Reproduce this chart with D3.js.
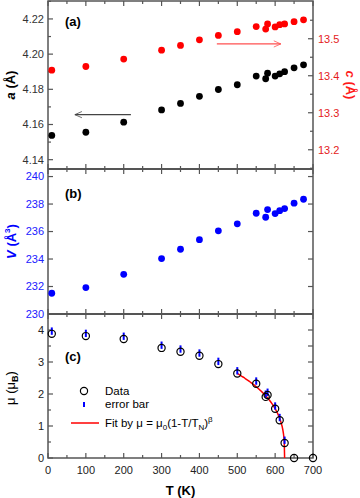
<!DOCTYPE html>
<html lang="en">
<head>
<meta charset="UTF-8">
<title>Lattice and moment vs T</title>
<script src="https://cdn.jsdelivr.net/npm/d3@7"></script>
<style>
  body { margin: 0; background: #fff; }
  text { font-family: "Liberation Sans", Arial, sans-serif; }
</style>
</head>
<body>
<div id="chart"></div>
<script>
// temperatures for the structural data (K)
const tempsLat = [10, 100, 200, 300, 350, 400, 450, 500, 550, 575, 580, 600, 612, 625, 650, 675];
const aVals = [4.1538, 4.1556, 4.1613, 4.1683, 4.172, 4.176, 4.1799, 4.1826, 4.1875, 4.186, 4.1892, 4.1875, 4.1888, 4.190, 4.1922, 4.1939];
const cVals = [13.415, 13.425, 13.445, 13.469, 13.482, 13.497, 13.509, 13.519, 13.533, 13.526, 13.540, 13.532, 13.538, 13.540, 13.546, 13.551];
const vVals = [231.51, 231.92, 232.89, 234.03, 234.71, 235.41, 236.05, 236.56, 237.33, 237.04, 237.60, 237.31, 237.52, 237.67, 238.06, 238.35];

// ordered moment
const tempsMu = [10, 100, 200, 300, 350, 400, 450, 500, 550, 575, 580, 600, 612, 625, 650, 700];
const muVals = [3.88, 3.81, 3.72, 3.44, 3.32, 3.195, 2.935, 2.64, 2.32, 1.91, 1.97, 1.54, 1.18, 0.47, 0, 0];
const muErr = [0.2, 0.2, 0.2, 0.2, 0.2, 0.2, 0.2, 0.2, 0.2, 0.2, 0.2, 0.2, 0.2, 0.2, 0, 0];

// fit parameters for mu = mu0 (1 - T/TN)^beta
const fitMu0 = 4.53, fitTN = 625, fitBeta = 0.335, fitFrom = 500;

const tTicks = [0, 100, 200, 300, 400, 500, 600, 700];
const aTicks = [4.14, 4.16, 4.18, 4.20, 4.22];
const cTicks = [13.2, 13.3, 13.4, 13.5];
const vTicks = [230, 232, 234, 236, 238, 240];
const muTicks = [0, 1, 2, 3, 4];

const W = 360, H = 498;
const left = 48, right = 313;
const yTop = 1, yAB = 169, yBC = 314, yBot = 458;
const frameCol = "#555";

const svg = d3.select("#chart").append("svg")
    .attr("width", W).attr("height", H);

const x = d3.scaleLinear().domain([0, 700]).range([left, right]);
const yA = d3.scaleLinear().domain([4.1347, 4.2302]).range([yAB, yTop]);
const yC = d3.scaleLinear().domain([13.148, 13.602]).range([yAB, yTop]);
const yV = d3.scaleLinear().domain([230, 240.55]).range([yBC, yAB]);
const yM = d3.scaleLinear().domain([0, 4.5]).range([yBot, yBC]);

// tick helper: inward ticks on a given side
function ticks(scale, vals, side, len, color, labels, fmt) {
    const g = svg.append("g");
    vals.forEach(v => {
        const p = scale(v);
        if (side === "left") {
            g.append("line").attr("x1", left).attr("x2", left + len).attr("y1", p).attr("y2", p)
                .attr("stroke", frameCol).attr("stroke-width", 1.2);
            if (labels) g.append("text").attr("x", left - 4).attr("y", p).attr("dy", "0.35em")
                .attr("text-anchor", "end").attr("font-size", 11).attr("fill", color).text(fmt(v));
        } else if (side === "right") {
            g.append("line").attr("x1", right).attr("x2", right - len).attr("y1", p).attr("y2", p)
                .attr("stroke", frameCol).attr("stroke-width", 1.2);
            if (labels) g.append("text").attr("x", right + 5).attr("y", p).attr("dy", "0.35em")
                .attr("text-anchor", "start").attr("font-size", 11).attr("fill", color).text(fmt(v));
        }
    });
}

function xTicksAt(yLine, up, down) {
    const g = svg.append("g");
    d3.range(0, 701, 50).forEach(t => {
        const major = t % 100 === 0;
        const l = major ? 5 : 3;
        g.append("line").attr("x1", x(t)).attr("x2", x(t))
            .attr("y1", yLine - (up ? l : 0)).attr("y2", yLine + (down ? l : 0))
            .attr("stroke", frameCol).attr("stroke-width", 1.2);
    });
}

// frames
svg.append("rect").attr("x", left).attr("y", yTop).attr("width", right - left).attr("height", yBot - yTop)
    .attr("fill", "none").attr("stroke", frameCol).attr("stroke-width", 1.5);
[yAB, yBC].forEach(yy => svg.append("line").attr("x1", left).attr("x2", right)
    .attr("y1", yy).attr("y2", yy).attr("stroke", frameCol).attr("stroke-width", 1.8));

xTicksAt(yTop, false, true);
xTicksAt(yAB, true, true);
xTicksAt(yBC, true, true);
xTicksAt(yBot, true, false);

// x tick labels
tTicks.forEach(t => svg.append("text").attr("x", x(t)).attr("y", yBot + 16)
    .attr("text-anchor", "middle").attr("font-size", 11).attr("fill", "#222").text(t));
svg.append("text").attr("x", (left + right) / 2).attr("y", yBot + 37)
    .attr("text-anchor", "middle").attr("font-size", 13).attr("font-weight", "bold").text("T (K)");

// panel (a)
const f2 = d3.format(".2f"), f1 = d3.format(".1f"), f0 = d3.format("d");
ticks(yA, aTicks, "left", 5, "#333", true, f2);
ticks(yA, d3.range(4.14, 4.2301, 0.01).filter((v, i) => i % 2 === 1), "left", 3, null, false);
ticks(yC, cTicks, "right", 5, "#e41a1c", true, f1);
ticks(yC, [13.15, 13.25, 13.35, 13.45, 13.55], "right", 3, null, false);

svg.append("text").attr("transform", `translate(15,${(yTop + yAB) / 2}) rotate(-90)`)
    .attr("text-anchor", "middle").attr("font-size", 13).attr("font-weight", "bold")
    .call(t => { t.append("tspan").attr("font-style", "italic").text("a"); t.append("tspan").text(" (Å)"); });
svg.append("text").attr("transform", `translate(346,${(yTop + yAB) / 2}) rotate(90)`)
    .attr("text-anchor", "middle").attr("font-size", 13).attr("font-weight", "bold").attr("fill", "#ff1a1a")
    .call(t => { t.append("tspan").attr("font-style", "italic").text("c"); t.append("tspan").text(" (Å)"); });

svg.append("g").selectAll("circle").data(tempsLat).join("circle")
    .attr("cx", d => x(d)).attr("cy", (d, i) => yC(cVals[i])).attr("r", 3.4).attr("fill", "#ff0000");
svg.append("g").selectAll("circle").data(tempsLat).join("circle")
    .attr("cx", d => x(d)).attr("cy", (d, i) => yA(aVals[i])).attr("r", 3.4).attr("fill", "#000");

// arrows
const defs = svg.append("defs");
function arrowHead(id, col) {
    defs.append("marker").attr("id", id).attr("viewBox", "0 0 10 10").attr("refX", 9).attr("refY", 5)
        .attr("markerWidth", 10).attr("markerHeight", 6).attr("orient", "auto")
        .append("path").attr("d", "M0,1 L9,5 L0,9").attr("fill", "none").attr("stroke", col).attr("stroke-width", 1);
}
arrowHead("arrK", "#444");
arrowHead("arrR", "#ff5050");
svg.append("line").attr("x1", x(219)).attr("x2", x(71)).attr("y1", yA(4.1656)).attr("y2", yA(4.1656))
    .attr("stroke", "#444").attr("stroke-width", 1.3).attr("marker-end", "url(#arrK)");
svg.append("line").attr("x1", x(446)).attr("x2", x(615)).attr("y1", yC(13.486)).attr("y2", yC(13.486))
    .attr("stroke", "#ff5050").attr("stroke-width", 1.3).attr("marker-end", "url(#arrR)");

// panel labels
[["(a)", 21], ["(b)", 193], ["(c)", 356]].forEach(([s, yy]) =>
    svg.append("text").attr("x", 65).attr("y", yy).attr("dy", "0.35em").attr("font-size", 13)
        .attr("font-weight", "bold").text(s));

// panel (b)
const blue = "#0000ff";
ticks(yV, vTicks, "left", 5, "#2020ff", true, f0);
ticks(yV, vTicks, "right", 5, null, false);
svg.append("text").attr("transform", `translate(16,${(yAB + yBC) / 2}) rotate(-90)`)
    .attr("text-anchor", "middle").attr("font-size", 13).attr("font-weight", "bold").attr("fill", blue)
    .call(t => {
        t.append("tspan").attr("font-style", "italic").text("V");
        t.append("tspan").text(" (Å");
        t.append("tspan").attr("font-size", 8).attr("dy", -6).text("3");
        t.append("tspan").attr("dy", 6).text(")");
    });
svg.append("g").selectAll("circle").data(tempsLat).join("circle")
    .attr("cx", d => x(d)).attr("cy", (d, i) => yV(vVals[i])).attr("r", 3.4).attr("fill", blue);

// panel (c)
ticks(yM, muTicks, "left", 5, "#222", true, f0);
ticks(yM, [0.5, 1.5, 2.5, 3.5, 4.5], "left", 3, null, false);
ticks(yM, d3.range(0.5, 4.6, 0.5), "right", 5, null, false);
svg.append("text").attr("transform", `translate(15,${(yBC + yBot) / 2 + 2}) rotate(-90)`)
    .attr("text-anchor", "middle").attr("font-size", 13)
    .call(t => {
        t.append("tspan").text("μ (μ");
        t.append("tspan").attr("font-size", 9).attr("font-weight", "bold").attr("dy", 3).text("B");
        t.append("tspan").attr("dy", -3).text(")");
    });

// fit curve
const fitT = d3.range(fitFrom, fitTN, 1).concat([fitTN]);
const fitLine = d3.line().x(d => x(d)).y(d => yM(fitMu0 * Math.pow(Math.max(0, 1 - d / fitTN), fitBeta)));
svg.append("path").datum(fitT).attr("d", fitLine).attr("fill", "none").attr("stroke", "#ff0000").attr("stroke-width", 1.5);

// error bars
svg.append("g").selectAll("line").data(tempsMu).join("line")
    .filter((d, i) => muErr[i] > 0)
    .attr("x1", d => x(d)).attr("x2", d => x(d))
    .attr("y1", (d, i) => yM(muVals[i] - 0.03)).attr("y2", (d, i) => yM(muVals[i] + muErr[i]))
    .attr("stroke", blue).attr("stroke-width", 2);
svg.append("g").selectAll("circle").data(tempsMu).join("circle")
    .attr("cx", d => x(d)).attr("cy", (d, i) => yM(muVals[i])).attr("r", 3.6)
    .attr("fill", "none").attr("stroke", "#000").attr("stroke-width", 1.2);

// legend
const lg = svg.append("g").attr("font-size", 11.5);
lg.append("circle").attr("cx", 84).attr("cy", 391).attr("r", 3.6).attr("fill", "none").attr("stroke", "#000").attr("stroke-width", 1.2);
lg.append("text").attr("x", 105).attr("y", 391).attr("dy", "0.35em").text("Data");
lg.append("line").attr("x1", 84).attr("x2", 84).attr("y1", 402).attr("y2", 407).attr("stroke", blue).attr("stroke-width", 2);
lg.append("text").attr("x", 105).attr("y", 404).attr("dy", "0.35em").text("error bar");
lg.append("line").attr("x1", 71).attr("x2", 99).attr("y1", 423).attr("y2", 423).attr("stroke", "#ff0000").attr("stroke-width", 1.5);
lg.append("text").attr("x", 105).attr("y", 423).attr("dy", "0.35em")
    .call(t => {
        t.append("tspan").text("Fit by μ = μ");
        t.append("tspan").attr("font-size", 8).attr("dy", 3).text("0");
        t.append("tspan").attr("dy", -3).text("(1-T/T");
        t.append("tspan").attr("font-size", 8).attr("dy", 3).text("N");
        t.append("tspan").attr("dy", -3).text(")");
        t.append("tspan").attr("font-size", 8).attr("dy", -5).text("β");
    });
</script>
</body>
</html>
